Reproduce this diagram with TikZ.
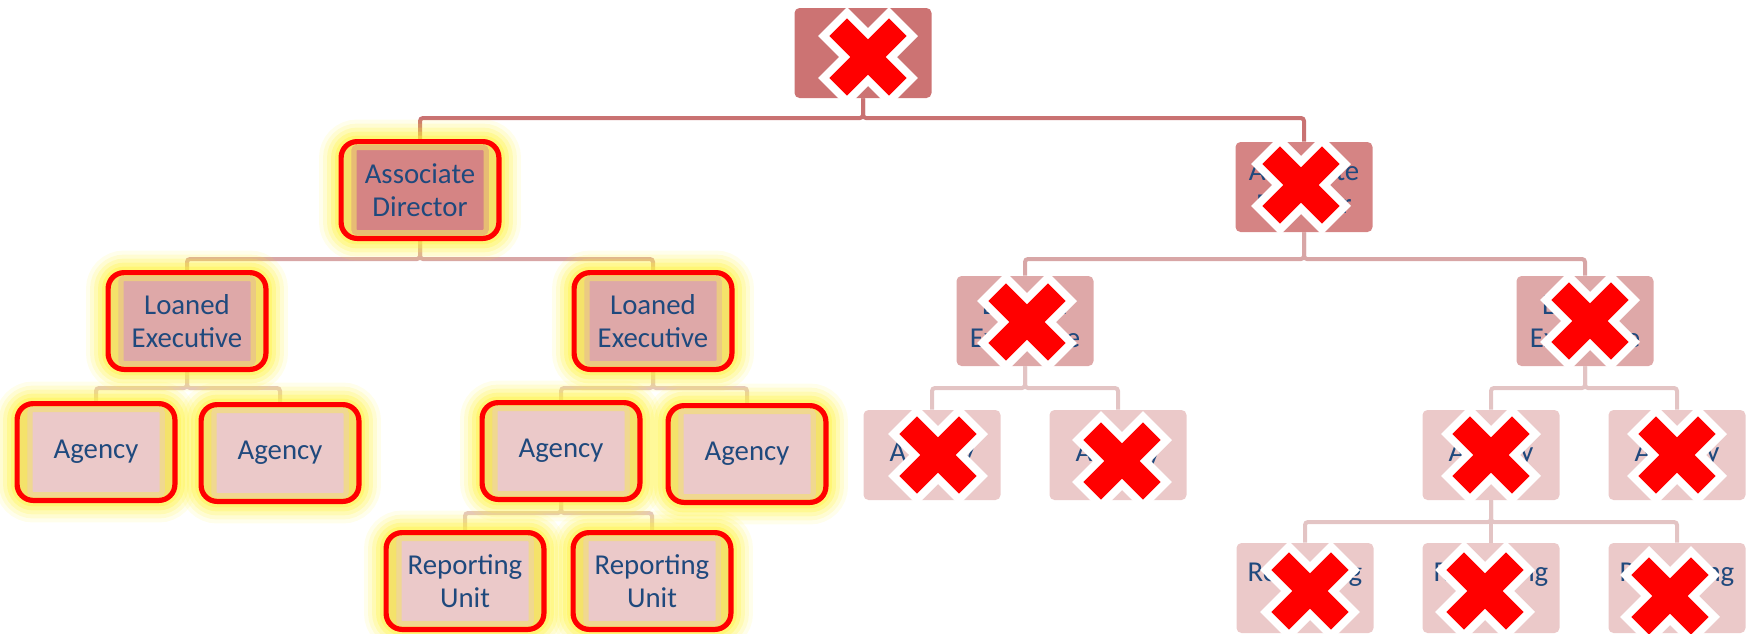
\documentclass[tikz,border=0pt]{standalone}
\usepackage{fontspec}
\setmainfont{Carlito}
\usetikzlibrary{calc}

\definecolor{ciafill}{HTML}{CC7373}
\definecolor{adfill}{HTML}{D58484}
\definecolor{lefill}{HTML}{DEA8A8}
\definecolor{agfill}{HTML}{EBC9C9}
\definecolor{lineA}{HTML}{C97272}
\definecolor{lineB}{HTML}{D8A6A6}
\definecolor{lineC}{HTML}{E3C4C4}
\definecolor{txtblue}{HTML}{1F497D}
\definecolor{nixred}{HTML}{FF0000}
\definecolor{glowyel}{HTML}{FFF33B}
\definecolor{rimyel}{HTML}{F4E26A}

\pgfdeclarelayer{lines}
\pgfdeclarelayer{glow}
\pgfsetlayers{lines,glow,main}

% yellow glow and red frame behind a chosen box
\newcommand\glowframe[1]{%
  \begin{pgfonlayer}{glow}
    \foreach \w/\o in {22/0.10, 18/0.14, 14/0.2, 10/0.28, 6/0.35}
      \draw[glowyel, line width=\w pt, opacity=\o, rounded corners=8pt]
        ($(#1.south west)+(-10,3)$) rectangle ($(#1.north east)+(10,-3)$);
    \draw[nixred, fill=rimyel, line width=2.6pt, rounded corners=8pt]
      ($(#1.south west)+(-10,3)$) rectangle ($(#1.north east)+(10,-3)$);
  \end{pgfonlayer}}

% red cross with white rim over a box
\newcommand\nixmark[2][0,0]{%
  \begin{scope}[shift={($(#2)+(#1)$)}]
    \draw[white, line width=20.5pt] (-35.4,-35.4) -- (35.4,35.4) (-35.4,35.4) -- (35.4,-35.4);
    \draw[nixred, line width=12.4pt] (-29.8,-29.8) -- (29.8,29.8) (-29.8,29.8) -- (29.8,-29.8);
  \end{scope}}

\begin{document}
\begin{tikzpicture}[x=0.5pt, y=-0.5pt]

\tikzset{
    box/.style={rounded corners=2.5pt, minimum width=68.5pt, minimum height=45pt,
      inner sep=2pt, align=center, text=txtblue, font=\fontsize{14.4}{16.5}\selectfont},
    ciabox/.style={box, fill=ciafill},
    adbox/.style={box, fill=adfill},
    lebox/.style={box, fill=lefill},
    agbox/.style={box, fill=agfill},
    lit/.style={path picture={\draw[rimyel, opacity=.6, line width=5pt]
      (path picture bounding box.south west) rectangle (path picture bounding box.north east);}},
    linkA/.style={draw=lineA, line width=2pt, rounded corners=1.5pt},
    linkB/.style={draw=lineB, line width=2pt, rounded corners=1.5pt},
    linkC/.style={draw=lineC, line width=2pt, rounded corners=1.5pt}
}

\useasboundingbox (0,0) rectangle (1750,633);

% Bus heights
\coordinate (busA) at (0,118);
\coordinate (busB) at (0,259);
\coordinate (busC) at (0,388);
\coordinate (busD) at (0,513);
\coordinate (busE) at (0,522);

% Top
\node[ciabox] (cia) at (863,53) {CIA};

% Associate directors
\node[adbox, lit] (adL) at (420,190) {Associate\\Director};
\node[adbox] (adR) at (1304,187) {Associate\\Director};

% Loaned executives
\node[lebox, lit] (leA) at (187,321) {Loaned\\Executive};
\node[lebox, lit] (leB) at (653,321) {Loaned\\Executive};
\node[lebox] (leC) at (1025,321) {Loaned\\Executive};
\node[lebox] (leD) at (1585,321) {Loaned\\Executive};

% Agencies
\node[agbox, lit] (agA) at (96,452) {Agency};
\node[agbox, lit] (agB) at (280,453) {Agency};
\node[agbox, lit] (agC) at (561,451) {Agency};
\node[agbox, lit] (agD) at (747,454) {Agency};
\node[agbox] (agE) at (932,455) {Agency};
\node[agbox] (agF) at (1118,455) {Agency};
\node[agbox] (agG) at (1491,455) {Agency};
\node[agbox] (agH) at (1677,455) {Agency};

% Reporting units
\node[agbox, lit] (ruA) at (465,581) {Reporting\\Unit};
\node[agbox, lit] (ruB) at (652,581) {Reporting\\Unit};
\node[agbox] (ruC) at (1305,588) {Reporting\\Unit};
\node[agbox] (ruD) at (1491,588) {Reporting\\Unit};
\node[agbox] (ruE) at (1677,588) {Reporting\\Unit};

% Highlighted branch
\foreach \n in {adL,leA,leB,agA,agB,agC,agD,ruA,ruB}
  \glowframe{\n};

% Connectors
\begin{pgfonlayer}{lines}
\draw[linkA] (cia.south) |- (adL.north |- busA) -- (adL.north);
\draw[linkA] (cia.south) |- (adR.north |- busA) -- (adR.north);

\draw[linkB] (adL.south) |- (leA.north |- busB) -- (leA.north);
\draw[linkB] (adL.south) |- (leB.north |- busB) -- (leB.north);
\draw[linkB] (adR.south) |- (leC.north |- busB) -- (leC.north);
\draw[linkB] (adR.south) |- (leD.north |- busB) -- (leD.north);

\draw[linkC] (leA.south) |- (agA.north |- busC) -- (agA.north);
\draw[linkC] (leA.south) |- (agB.north |- busC) -- (agB.north);
\draw[linkC] (leB.south) |- (agC.north |- busC) -- (agC.north);
\draw[linkC] (leB.south) |- (agD.north |- busC) -- (agD.north);
\draw[linkC] (leC.south) |- (agE.north |- busC) -- (agE.north);
\draw[linkC] (leC.south) |- (agF.north |- busC) -- (agF.north);
\draw[linkC] (leD.south) |- (agG.north |- busC) -- (agG.north);
\draw[linkC] (leD.south) |- (agH.north |- busC) -- (agH.north);

\draw[linkC] (agC.south) |- (ruA.north |- busD) -- (ruA.north);
\draw[linkC] (agC.south) |- (ruB.north |- busD) -- (ruB.north);
\draw[linkC] (agG.south) |- (ruC.north |- busE) -- (ruC.north);
\draw[linkC] (agG.south) |- (ruD.north |- busE) -- (ruD.north);
\draw[linkC] (agG.south) |- (ruE.north |- busE) -- (ruE.north);
\end{pgfonlayer}

% Crossed-out boxes
\nixmark[5,4]{cia}
\nixmark[-3,-2]{adR}
\nixmark[2,1]{leC}
\nixmark[5,0]{leD}
\nixmark[6,0]{agE}
\nixmark[4,6]{agF}
\nixmark{agG}
\nixmark{agH}
\nixmark[5,3]{ruC}
\nixmark[-6,3]{ruD}
\nixmark[-7,8]{ruE}

\end{tikzpicture}
\end{document}
